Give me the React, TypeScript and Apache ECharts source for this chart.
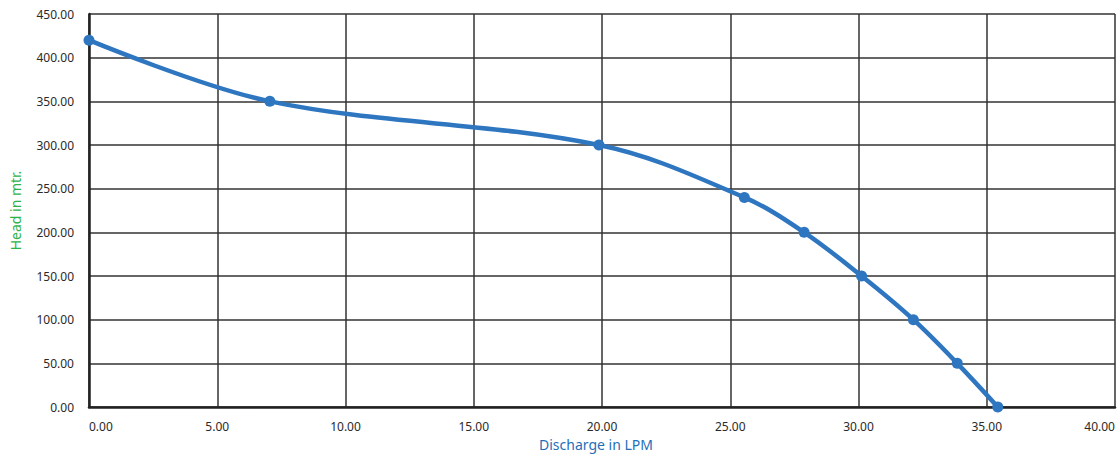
import React, { useEffect, useRef } from "react";
import * as echarts from "echarts";

const discharge = [0, 7.05, 19.88, 25.55, 27.88, 30.12, 32.14, 33.85, 35.43];
const head = [420, 350, 300, 240, 200, 150, 100, 50, 0];
const xAxisTitle = "Discharge in LPM";
const yAxisTitle = "Head in mtr.";

export default function App() {
  const ref = useRef<HTMLDivElement>(null);
  useEffect(() => {
    document.body.style.margin = "0";
    document.body.style.overflow = "hidden";
    if (!ref.current) return;
    const chart = echarts.init(ref.current, undefined, { renderer: "svg" });
    const font = "'Noto Sans', sans-serif";
    chart.setOption({
      animation: false,
      backgroundColor: "#ffffff",
      grid: { left: 88, right: 3, top: 14, bottom: 47, containLabel: false },
      xAxis: {
        type: "value",
        min: 0,
        max: 40,
        interval: 5,
        name: xAxisTitle,
        nameLocation: "middle",
        nameGap: 30,
        nameTextStyle: { color: "#1f6fb8", fontSize: 14, fontFamily: font, padding: [0, 12, 0, 0] },
        axisLine: { show: true, lineStyle: { color: "#222", width: 2.5 } },
        axisTick: { show: false },
        axisLabel: {
          formatter: (v: number) => v.toFixed(2),
          color: "#2a2a2a",
          fontSize: 12,
          fontFamily: font,
          margin: 13,
          alignMinLabel: "left",
          alignMaxLabel: "right",
        },
        splitLine: { show: true, lineStyle: { color: "#333", width: 1.5 } },
      },
      yAxis: {
        type: "value",
        min: 0,
        max: 450,
        interval: 50,
        name: yAxisTitle,
        nameLocation: "middle",
        nameGap: 67,
        nameTextStyle: { color: "#2db34a", fontSize: 14, fontFamily: font },
        axisLine: { show: true, lineStyle: { color: "#222", width: 2.5 } },
        axisTick: { show: false },
        axisLabel: {
          formatter: (v: number) => v.toFixed(2),
          color: "#2a2a2a",
          fontSize: 12,
          fontFamily: font,
          margin: 15,
        },
        splitLine: { show: true, lineStyle: { color: "#333", width: 1.5 } },
      },
      series: [
        {
          type: "line",
          data: discharge.map((x, i) => [x, head[i]]),
          smooth: 0.35,
          symbol: "circle",
          symbolSize: 11,
          lineStyle: { color: "#2f76c0", width: 4.5 },
          itemStyle: { color: "#2f76c0" },
        },
      ],
    });
    return () => chart.dispose();
  }, []);
  return <div ref={ref} style={{ width: 1118, height: 456 }} />;
}
